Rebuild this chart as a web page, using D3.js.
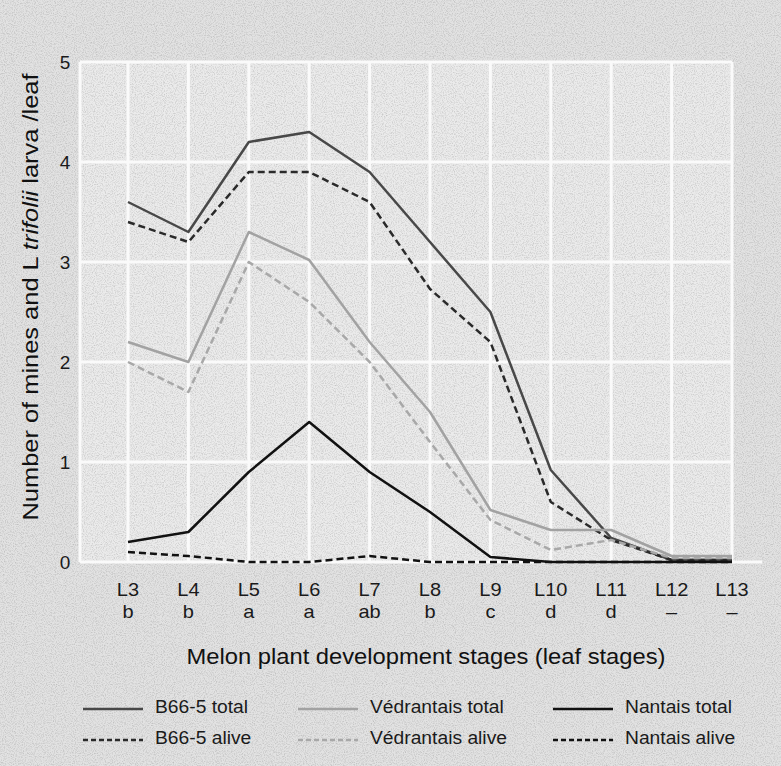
<!DOCTYPE html>
<html>
<head>
<meta charset="utf-8">
<script src="https://cdn.jsdelivr.net/npm/d3@7"></script>
<style>
  body { margin: 0; background: #dedede; }
  svg { display: block; font-family: "Liberation Sans", Arial, sans-serif; }
</style>
</head>
<body>
<svg id="chart" width="781" height="766"></svg>
<script>
// leaf stages and significance letters
var stages = ["L3", "L4", "L5", "L6", "L7", "L8", "L9", "L10", "L11", "L12", "L13"];
var letters = ["b", "b", "a", "a", "ab", "b", "c", "d", "d", "\u2013", "\u2013"];
var yTicks = [0, 1, 2, 3, 4, 5];

// mines and larvae per leaf
var b66Total = [3.6, 3.3, 4.2, 4.3, 3.9, 3.2, 2.5, 0.92, 0.24, 0.02, 0.02];
var b66Alive = [3.4, 3.2, 3.9, 3.9, 3.6, 2.73, 2.2, 0.6, 0.22, 0.02, 0.02];
var vedTotal = [2.2, 2.0, 3.3, 3.02, 2.2, 1.5, 0.52, 0.32, 0.32, 0.06, 0.06];
var vedAlive = [2.0, 1.7, 3.0, 2.6, 2.0, 1.2, 0.42, 0.12, 0.22, 0.04, 0.04];
var nanTotal = [0.2, 0.3, 0.9, 1.4, 0.9, 0.5, 0.05, 0, 0, 0, 0];
var nanAlive = [0.1, 0.06, 0, 0, 0.06, 0, 0, 0, 0, 0, 0];

var series = [
  { name: "B66-5 total", values: b66Total, color: "#484848", dash: null },
  { name: "B66-5 alive", values: b66Alive, color: "#2a2a2a", dash: "7,4" },
  { name: "V\u00e9drantais total", values: vedTotal, color: "#a2a2a2", dash: null },
  { name: "V\u00e9drantais alive", values: vedAlive, color: "#a8a8a8", dash: "7,4" },
  { name: "Nantais total", values: nanTotal, color: "#111", dash: null },
  { name: "Nantais alive", values: nanAlive, color: "#111", dash: "7,4" }
];

// the scanned type is a bit wider than Liberation Sans
function widen(sel, k) {
  sel.each(function() {
    var w = this.getComputedTextLength();
    d3.select(this).attr("textLength", w * k).attr("lengthAdjust", "spacingAndGlyphs");
  });
}

var svg = d3.select("#chart");

// grainy paper look
var defs = svg.append("defs");
var f = defs.append("filter").attr("id", "grain").attr("x", 0).attr("y", 0).attr("width", "100%").attr("height", "100%");
f.append("feTurbulence").attr("type", "fractalNoise").attr("baseFrequency", 0.9).attr("numOctaves", 2).attr("seed", 3);
f.append("feColorMatrix").attr("type", "matrix")
  .attr("values", "0 0 0 0 0  0 0 0 0 0  0 0 0 0 0  0 0 0 -1.3 0.75");

svg.append("rect").attr("width", 781).attr("height", 766).attr("fill", "#e2e2e2");

var x = d3.scalePoint().domain(stages).range([128, 732]);
var y = d3.scaleLinear().domain([0, 5]).range([562, 62]);

// panel
svg.append("rect")
  .attr("x", 80).attr("y", y(5))
  .attr("width", x("L13") - 80).attr("height", y(0) - y(5))
  .attr("fill", "#ebebeb");

svg.append("rect").attr("width", 781).attr("height", 766)
  .attr("filter", "url(#grain)").attr("opacity", 0.25);

var grid = svg.append("g").attr("stroke", "#fafafa").attr("stroke-width", 3);
grid.selectAll("line.v").data(stages).join("line")
  .attr("class", "v")
  .attr("x1", d => x(d)).attr("x2", d => x(d))
  .attr("y1", y(5)).attr("y2", y(0));
grid.selectAll("line.h").data(yTicks).join("line")
  .attr("class", "h")
  .attr("x1", 80).attr("x2", d => d === 0 ? 762 : x("L13"))
  .attr("y1", d => y(d)).attr("y2", d => y(d));
grid.append("line")
  .attr("x1", 80).attr("x2", 80).attr("y1", y(5)).attr("y2", y(0));

// y tick labels
svg.append("g").selectAll("text").data(yTicks).join("text")
  .attr("x", 65).attr("y", d => y(d) + 7)
  .attr("text-anchor", "middle")
  .attr("font-size", 19).attr("fill", "#1a1a1a")
  .text(d => d);

// x tick labels with letters
var xt = svg.append("g").attr("font-size", 18.5).attr("fill", "#1a1a1a").attr("text-anchor", "middle");
xt.selectAll("text.s").data(stages).join("text")
  .attr("class", "s")
  .attr("x", d => x(d)).attr("y", 596)
  .text(d => d)
  .call(widen, 1.08);
xt.selectAll("text.l").data(letters).join("text")
  .attr("class", "l")
  .attr("x", (d, i) => x(stages[i])).attr("y", 618)
  .text(d => d)
  .call(widen, 1.08);

// axis titles
svg.append("text")
  .attr("x", 426).attr("y", 664)
  .attr("text-anchor", "middle")
  .attr("font-size", 21.5).attr("fill", "#111")
  .attr("textLength", 479).attr("lengthAdjust", "spacingAndGlyphs")
  .text("Melon plant development stages (leaf stages)");

var yt = svg.append("text")
  .attr("transform", "translate(38,297) rotate(-90)")
  .attr("text-anchor", "middle")
  .attr("font-size", 22.5).attr("fill", "#111")
  .attr("textLength", 447).attr("lengthAdjust", "spacingAndGlyphs");
yt.append("tspan").text("Number of mines and L ");
yt.append("tspan").attr("font-style", "italic").text("trifolii");
yt.append("tspan").text(" larva /leaf");

// lines
var line = d3.line()
  .x((d, i) => x(stages[i]))
  .y(d => y(d));

svg.append("g").selectAll("path").data(series).join("path")
  .attr("d", d => line(d.values))
  .attr("fill", "none")
  .attr("stroke", d => d.color)
  .attr("stroke-width", 2.5)
  .attr("stroke-dasharray", d => d.dash)
  .attr("stroke-linejoin", "round");

// legend
var legX = [83, 298, 553];
var legY = [709, 740];
var leg = svg.append("g").selectAll("g").data(series).join("g")
  .attr("transform", (d, i) => "translate(" + legX[Math.floor(i / 2)] + "," + legY[i % 2] + ")");
leg.append("line")
  .attr("x1", 0).attr("x2", 60)
  .attr("stroke", d => d.color)
  .attr("stroke-width", 2.5)
  .attr("stroke-dasharray", d => d.dash ? "5,3" : null);
leg.append("text")
  .attr("x", 72).attr("y", 4)
  .attr("font-size", 17.5).attr("fill", "#1a1a1a")
  .text(d => d.name)
  .call(widen, 1.1);
</script>
</body>
</html>
